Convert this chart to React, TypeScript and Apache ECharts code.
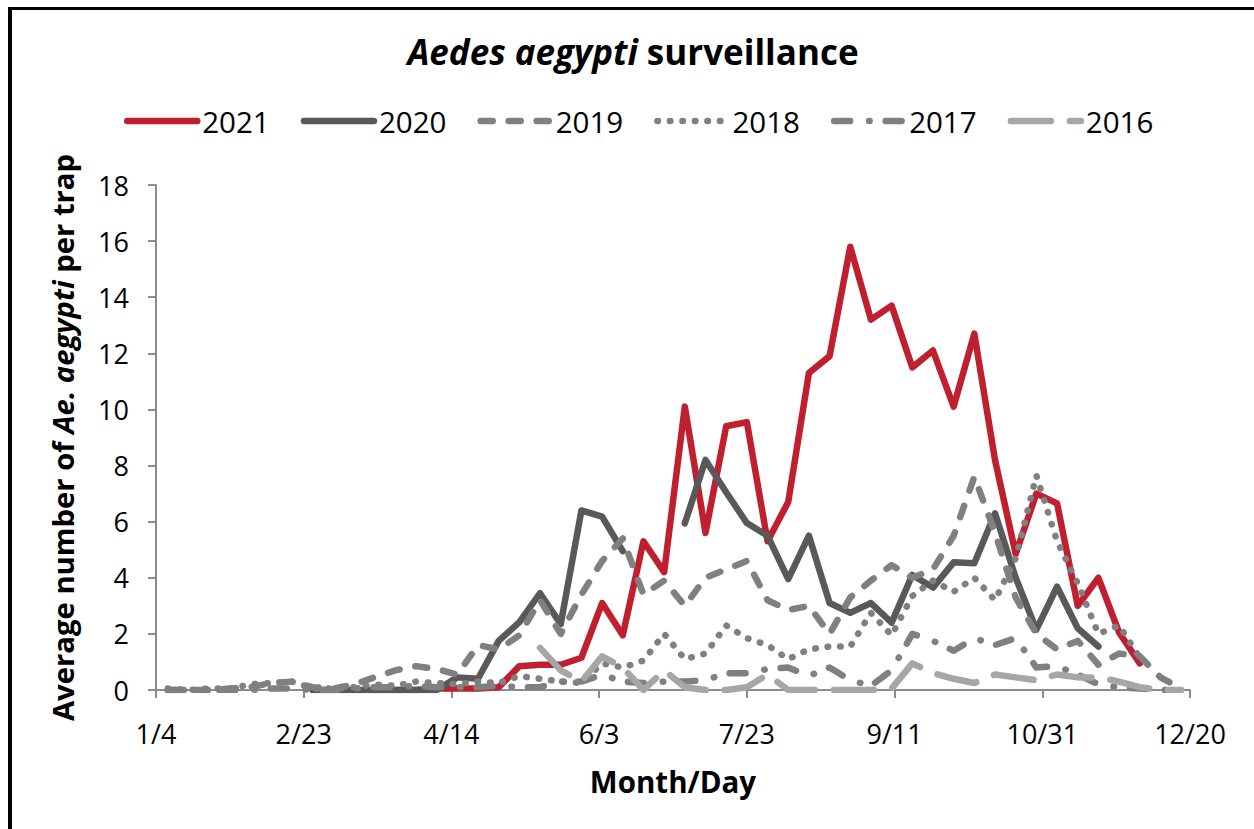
import React, { useEffect, useRef } from "react";
import * as echarts from "echarts";

// Sample days (days after Jan 4) for each weekly collection
const sampleDays = [
  4, 11, 18, 25, 32, 39, 46, 53, 60, 67, 74, 81, 88, 95, 102, 109, 116, 123, 130, 137,
  144, 151, 158, 165, 172, 179, 186, 193, 200, 207, 214, 221, 228, 235, 242, 249, 256, 263, 270, 277,
  284, 291, 298, 305, 312, 319, 326, 333, 340, 347,
];

// Axis ticks every 50 days from 1/4
const tickLabels = ["1/4", "2/23", "4/14", "6/3", "7/23", "9/11", "10/31", "12/20"];

const y2021 = [
  null, null, null, null, null, null, null, null, null, null,
  0, 0, 0, 0.05, 0.05, 0.05, 0.1, 0.85, 0.9, 0.9,
  1.15, 3.1, 1.95, 5.3, 4.2, 10.1, 5.6, 9.4, 9.55, 5.3,
  6.7, 11.3, 11.9, 15.8, 13.2, 13.7, 11.5, 12.1, 10.1, 12.7,
  8.2, 4.85, 7.0, 6.65, 3.0, 4.0, 2.05, 0.95, null, null,
];

const y2020 = [
  null, null, null, null, null, null, null, 0, 0, 0,
  0, 0, 0, 0, 0.45, 0.4, 1.75, 2.42, 3.45, 2.35,
  6.4, 6.18, 4.95, null, null, 5.94, 8.2, 7.05, 5.95, 5.5,
  3.95, 5.5, 3.1, 2.75, 3.1, 2.4, 4.1, 3.65, 4.55, 4.52,
  6.3, 4.0, 2.15, 3.68, 2.2, 1.55, null, null, null, null,
];

const y2019 = [
  0, 0, 0, 0.05, 0.1, 0.25, 0.3, 0.1, 0.05, 0.2,
  0.45, 0.7, 0.85, 0.75, 0.55, 1.6, 1.45, 1.95, 3.2, 2.0,
  3.4, 4.6, 5.4, 3.4, 3.9, 3.0, 4.0, 4.3, 4.6, 3.2,
  2.85, 3.0, 2.0, 3.3, 3.9, 4.45, 4.0, 4.3, 5.5, 7.6,
  5.6, 3.3, 2.0, 1.45, 1.75, 0.9, 1.3, 1.2, 0.45, 0.05,
];

const y2018 = [
  0.05, 0, 0.05, 0.05, 0.2, 0.25, 0.3, 0.05, 0.05, 0.1,
  0.2, 0.15, 0.3, 0.25, 0.2, 0.3, 0.25, 0.5, 0.4, 0.3,
  0.25, 0.95, 0.8, 1.05, 2.0, 1.1, 1.3, 2.3, 1.85, 1.6,
  1.1, 1.45, 1.55, 1.55, 2.75, 1.95, 3.35, 3.9, 3.5, 4.0,
  3.2, 4.7, 7.65, 5.3, 3.8, 2.0, 2.3, 1.15, null, null,
];

const y2017 = [
  0, 0, 0, 0, 0, 0.05, 0.05, 0, 0, 0.05,
  0.1, 0.1, 0.15, 0.1, 0.1, 0.1, 0.15, 0.1, 0.1, 0.3,
  0.3, 0.55, 0.3, 0.25, 0.3, 0.3, 0.35, 0.6, 0.6, 0.75,
  0.8, 0.5, 0.8, 0.35, 0.15, 0.7, 2.0, 1.75, 1.4, 1.85,
  1.6, 1.85, 0.8, 0.85, 0.55, 0.2, 0.1, 0.05, 0, 0,
];

const y2016 = [
  null, null, null, null, null, null, null, null, null, null,
  null, null, null, null, null, null, null, null, 1.5, 0.7,
  0.3, 1.2, 0.8, 0, 0.7, 0.1, 0, 0, 0.1, 0.55,
  0, 0, 0, 0, 0, 0.05, 0.95, 0.6, 0.4, 0.25,
  0.55, 0.45, 0.35, 0.55, 0.45, 0.45, 0.3, 0.1, 0, 0,
];

const seriesDefs = [
  { name: "2021", values: y2021, color: "#C01F2F", dash: "solid" as any },
  { name: "2020", values: y2020, color: "#595959", dash: "solid" as any },
  { name: "2019", values: y2019, color: "#808080", dash: [12, 16] },
  { name: "2018", values: y2018, color: "#808080", dash: [0.5, 12] },
  { name: "2017", values: y2017, color: "#808080", dash: [16, 19, 0.5, 16] },
  { name: "2016", values: y2016, color: "#A6A6A6", dash: [40, 19] },
];

const FONT = "'Open Sans', 'Noto Sans', sans-serif";
const LINE_W = 6.5;

export default function App() {
  const ref = useRef<HTMLDivElement>(null);

  useEffect(() => {
    if (!ref.current) return;
    const chart = echarts.init(ref.current, null, { renderer: "svg" });
    const axisColor = "#8C8C8C";
    chart.setOption({
      animation: false,
      textStyle: { fontFamily: FONT },
      title: {
        text: "{bi|Aedes aegypti}{b| surveillance}",
        left: "center",
        top: 19,
        textStyle: {
          rich: {
            bi: { fontFamily: FONT, fontSize: 35, fontWeight: "bold", fontStyle: "italic", color: "#000" },
            b: { fontFamily: FONT, fontSize: 35, fontWeight: "bold", color: "#000" },
          },
        },
      },
      legend: {
        top: 91,
        left: 107,
        itemWidth: 70,
        itemHeight: 14,
        itemGap: 31,
        itemStyle: { opacity: 0 },
        lineStyle: { width: LINE_W, cap: "round" },
        textStyle: { fontSize: 29.5, color: "#000", fontFamily: FONT },
        data: seriesDefs.map((s) => s.name),
      },
      grid: { left: 144, right: 64, top: 175, bottom: 139, containLabel: false },
      xAxis: {
        type: "value",
        min: 0,
        max: 350,
        interval: 50,
        name: "Month/Day",
        nameLocation: "middle",
        nameGap: 76,
        nameTextStyle: { fontSize: 29.5, fontWeight: "bold", color: "#000", fontFamily: FONT },
        axisLine: { show: true, lineStyle: { color: axisColor, width: 2 } },
        axisTick: { show: true, length: 8, lineStyle: { color: axisColor, width: 2 } },
        axisLabel: {
          margin: 30,
          fontSize: 27,
          color: "#000",
          fontFamily: FONT,
          formatter: (v: number) => tickLabels[Math.round(v / 50)] ?? "",
        },
        splitLine: { show: false },
      },
      yAxis: {
        type: "value",
        min: 0,
        max: 18,
        interval: 2,
        name: "{b|Average number of }{bi|Ae. aegypti}{b| per trap}",
        nameLocation: "middle",
        nameGap: 79,
        nameTextStyle: {
          rich: {
            b: { fontSize: 29.25, fontWeight: "bold", color: "#000", fontFamily: FONT },
            bi: { fontSize: 29.25, fontWeight: "bold", fontStyle: "italic", color: "#000", fontFamily: FONT },
          },
        },
        axisLine: { show: true, lineStyle: { color: axisColor, width: 2 } },
        axisTick: { show: true, length: 8, lineStyle: { color: axisColor, width: 2 } },
        axisLabel: { margin: 27, fontSize: 27, color: "#000", fontFamily: FONT },
        splitLine: { show: false },
      },
      series: seriesDefs.map((s) => ({
        name: s.name,
        type: "line",
        symbol: "none",
        connectNulls: false,
        data: s.values.map((v, i) => [sampleDays[i], v]),
        lineStyle: { color: s.color, width: LINE_W, type: s.dash, cap: "round", join: "round" },
        itemStyle: { color: s.color },
      })),
    });
    return () => chart.dispose();
  }, []);

  return (
    <div
      style={{
        position: "fixed",
        left: 8,
        top: 7,
        width: 1246,
        height: 822,
        borderLeft: "4px solid #000",
        borderTop: "3px solid #000",
        boxSizing: "border-box",
        background: "#fff",
      }}
    >
      <div ref={ref} style={{ width: 1242, height: 819 }} />
    </div>
  );
}
